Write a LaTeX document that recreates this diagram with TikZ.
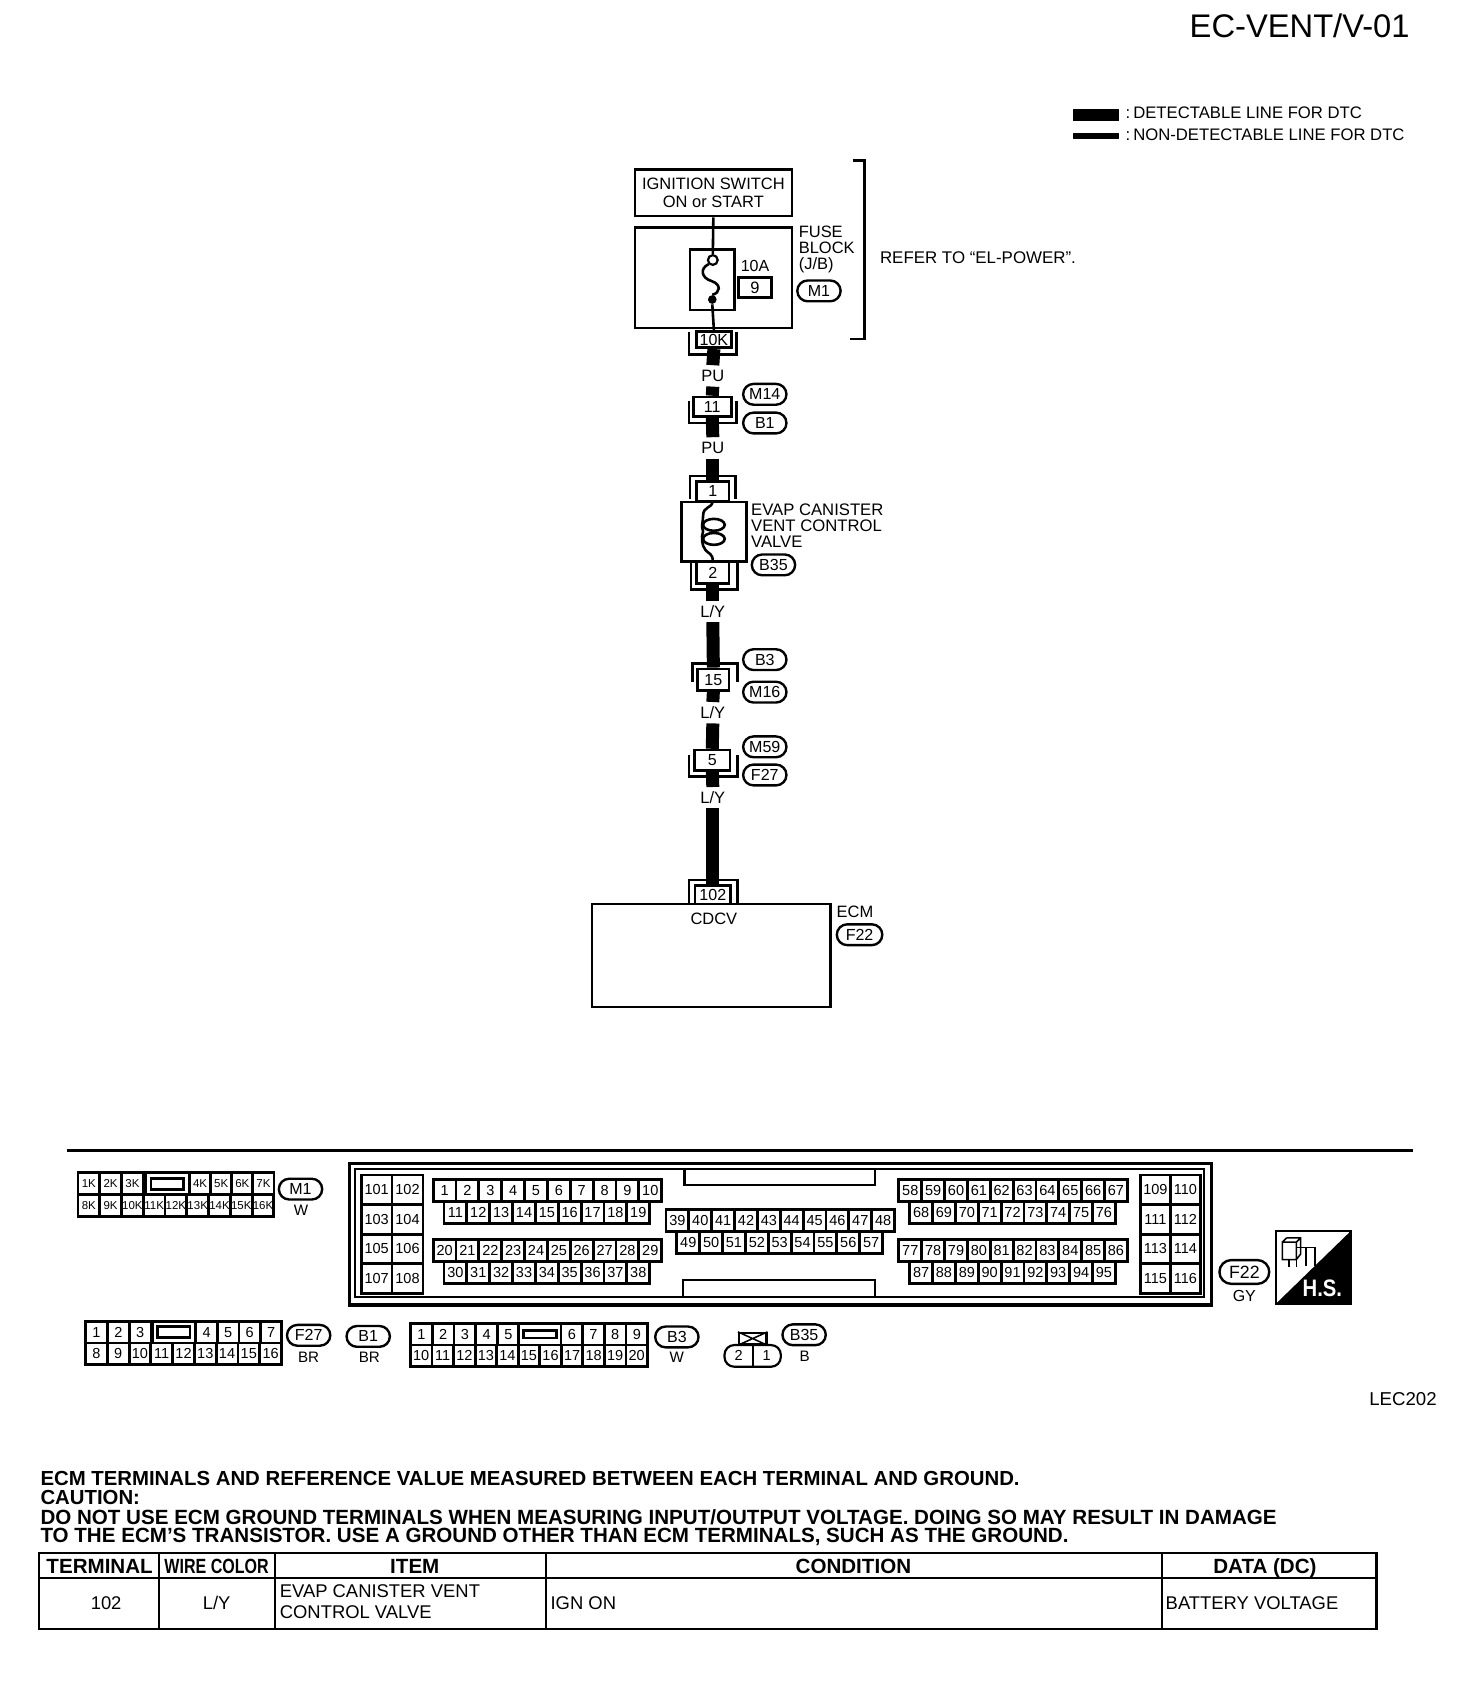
\documentclass[tikz,border=0pt]{standalone}
\usepackage{fontspec}
\setmainfont{Liberation Sans}
\newcommand{\fs}[1]{\fontsize{#1}{#1}\selectfont}
\newcommand{\pinrow}[6]{\foreach \lbl [count=\i from 0] in {#6} {\node[pin,minimum width=#4*0.5pt,minimum height=#5*0.5pt] (#1\lbl) at ({#2+(\i+0.5)*#4},{#3+0.5*#5}) {\lbl};}}
\begin{document}
\begin{tikzpicture}[x=0.5pt,y=-0.5pt,
box/.style={draw,line width=1.1pt,inner sep=0,font=\fs{7.6},align=center},
cbox/.style={draw,fill=white,line width=1.2pt,inner sep=0,font=\fs{7.4}},
lab/.style={inner sep=0,font=\fs{7.6},align=left,anchor=west},
wirelab/.style={inner sep=0,font=\fs{7.6},minimum height=9.5pt},
tag/.style={draw,line width=1.1pt,rounded corners=4.8pt,inner sep=0,minimum width=20pt,minimum height=9.6pt,font=\fs{7.4}},
pin/.style={draw,line width=1.3pt,fill=white,inner sep=0,font=\fs{6.7}},
wire/.style={line width=6pt},
lead/.style={line width=1.2pt},
shell/.style={line width=1.2pt},
head/.style={inner sep=0,font=\bfseries\fs{9.5},text height=6.8pt,text depth=0pt},
cell/.style={inner sep=0,font=\fs{8.5}}]
\useasboundingbox (0,0) rectangle (1359.4,1567.9);

\node[inner sep=0,anchor=east,font=\fs{15.1}] (title) at (1302,24) {EC-VENT/V-01};
\node[inner sep=0,minimum width=21pt,minimum height=5.5pt,fill=black] (barA) at (1012,106) {};
\node[inner sep=0,minimum width=21pt,minimum height=2.6pt,fill=black] (barB) at (1012,125.5) {};
\node[lab,font=\fs{7.7}] (legA) at (1039,104.5) {:\hspace{1.4pt}DETECTABLE LINE FOR DTC};
\node[lab,font=\fs{7.7}] (legB) at (1039,124) {:\hspace{1.4pt}NON-DETECTABLE LINE FOR DTC};

\begin{scope}[xshift=0.6pt,yshift=-0.3pt]
\node[box,minimum width=72.5pt,minimum height=21.5pt] (ign) at (657.5,177.5) {IGNITION SWITCH\\[1pt]ON or START};
\node[box,minimum width=72.5pt,minimum height=46.5pt] (fblock) at (657.5,256) {};
\node[box,minimum width=20.5pt,minimum height=28pt] (fuse) at (656.5,257.7) {};
\node[circle,draw,fill=white,line width=1pt,inner sep=0,minimum size=4.5pt] (fuseA) at (657,239.5) {};
\node[circle,fill=black,inner sep=0,minimum size=4pt] (fuseB) at (656.5,276) {};
\draw[lead] (fuseA.south west) .. controls (645,247) and (646,256) .. (656,259) .. controls (665,262) and (664,270) .. (fuseB.north);
\node[inner sep=0,font=\fs{7.4}] (amp) at (696,245) {10A};
\node[box,minimum width=15.3pt,minimum height=9.2pt] (fnum) at (696,265) {9};
\node[lab,font=\fs{7.6}] (fusel) at (736,230) {FUSE\\[-0.2pt]BLOCK\\[-0.2pt](J/B)};
\node[tag] (tagMa) at (755,268) {M1};
\draw[shell,line width=1.2pt] (786,147.5) -- (797,147.5) -- (797,312.5) -- (784,312.5);
\node[lab,font=\fs{7.8}] (refer) at (811,237.5) {REFER TO “EL-POWER”.};

\node[cbox,minimum width=16pt,minimum height=7.5pt] (cA) at (658,313) {10K};
\draw[shell] (635,305.5) |- (679,326.5) -- (679,305.5);
\node[wirelab] (puA) at (657,346.5) {PU};
\node[cbox,minimum width=17.5pt,minimum height=9pt] (cB) at (656.5,375) {11};
\draw[shell] (635,370) |- (679,390) -- (679,370);
\node[tag] (tagMb) at (705,363.5) {M14};
\node[tag] (tagB) at (705,390) {B1};
\node[wirelab] (puB) at (657,413) {PU};
\node[cbox,minimum width=15pt,minimum height=9pt] (cC) at (657,453) {1};
\draw[shell] (636,460) |- (678,439) -- (678,460);

\node[box,minimum width=30pt,minimum height=27.5pt] (valve) at (658,490.5) {};
\draw[lead] (valve.north) ++(-1,0) .. controls (656,470) and (648,466) .. (648,476) .. controls (648,481) and (646,486) .. (648,490) .. controls (646,496) and (647,503) .. (650,507) .. controls (653,511) and (657,510) .. (657,518);
\draw[lead] (658,484) ellipse (10 and 5.5);
\draw[lead] (658,497) ellipse (10 and 5.5);
\node[lab,font=\fs{7.7}] (valvel) at (692,485) {EVAP CANISTER\\[-0.2pt]VENT CONTROL\\[-0.2pt]VALVE};
\node[tag] (tagBc) at (713,521) {B35};
\node[cbox,minimum width=15pt,minimum height=10pt] (cD) at (657,528) {2};
\draw[shell] (637,519) |- (680,544) -- (680,519);
\node[wirelab] (lyA) at (657,564) {L/Y};
\node[cbox,minimum width=14.5pt,minimum height=10pt] (cE) at (657.5,627) {15};
\draw[shell] (638,629) |- (680,612) -- (680,629);
\node[tag] (tagBb) at (705,608.5) {B3};
\node[tag] (tagMc) at (705,638.5) {M16};
\node[wirelab] (lyB) at (657,657.5) {L/Y};
\node[cbox,minimum width=16.5pt,minimum height=9.5pt] (cF) at (656.5,701.5) {5};
\draw[shell] (635,697) |- (680,716.5) -- (680,697);
\node[tag] (tagMd) at (705,689) {M59};
\node[tag] (tagFa) at (705,715) {F27};
\node[wirelab] (lyC) at (657,736) {L/Y};
\node[cbox,minimum width=16.5pt,minimum height=8.5pt] (cG) at (657,825.5) {102};
\draw[shell] (635,834) |- (680,812) -- (680,834);
\node[box,minimum width=110pt,minimum height=47.5pt] (ecm) at (655.5,881.5) {};
\node[inner sep=0,font=\fs{7.6}] (cdcv) at (658,848) {CDCV};
\node[lab,font=\fs{7.6}] (ecml) at (771,841) {ECM};
\node[tag,minimum width=21pt] (tagFb) at (792.5,862.5) {F22};

\draw[lead] (ign.south) -- (fuseA.north);
\draw[lead] (fuseB.south) -- (cA.north);
\draw[wire] (cA.south) -- (puA.north);
\draw[wire] (puA.south) -- (cB.north);
\draw[wire] (cB.south) -- (puB.north);
\draw[wire] (puB.south) -- (cC.north);
\draw[wire] (cD.south) -- (lyA.north);
\draw[wire] (lyA.south) -- (cE.north);
\draw[wire] (cE.south) -- (lyB.north);
\draw[wire] (lyB.south) -- (cF.north);
\draw[wire] (cF.south) -- (lyC.north);
\draw[wire] (lyC.south) -- (cG.north);
\end{scope}

\draw[line width=1.3pt] (62,1062) -- (1305,1062);

\begin{scope}[pin/.append style={font=\fs{5.3}}]
\pinrow{mk}{72}{1083}{20.1}{20}{1K,2K,3K}
\pinrow{mk}{175}{1083}{19.5}{20}{4K,5K,6K,7K}
\pinrow{mk}{72}{1103}{20.1}{20}{8K,9K,10K,11K,12K,13K,14K,15K,16K}
\end{scope}
\node[pin,minimum width=20.5pt,minimum height=10pt] (mkslot) at (154.5,1093) {};
\node[pin,minimum width=15pt,minimum height=5pt] (mkslotb) at (154.5,1093) {};
\node[tag] (conMa) at (277.5,1098) {M1};
\node[inner sep=0,font=\fs{7}] (colMa) at (278,1118) {W};

\draw[line width=1.5pt] (323,1074) rectangle (1119,1205);
\draw[line width=0.9pt] (328,1079) rectangle (1112,1198);
\draw[line width=1pt] (632,1079) |- (808,1094) -- (808,1079);
\draw[line width=1pt] (631,1198) |- (808,1182) -- (808,1198);

\pinrow{e}{333.5}{1085}{28.5}{27.3}{101,102}
\pinrow{e}{333.5}{1112.3}{28.5}{27.3}{103,104}
\pinrow{e}{333.5}{1139.6}{28.5}{27.3}{105,106}
\pinrow{e}{333.5}{1166.9}{28.5}{27.3}{107,108}
\pinrow{e}{400}{1089}{21.1}{20.5}{1,...,10}
\pinrow{e}{410}{1109.5}{21.1}{20.5}{11,...,19}
\pinrow{e}{400}{1144.5}{21.1}{20.5}{20,...,29}
\pinrow{e}{410}{1165}{21.1}{20.5}{30,...,38}
\pinrow{e}{615}{1116.5}{21.1}{20.5}{39,...,48}
\pinrow{e}{625}{1137}{21.1}{20.5}{49,...,57}
\pinrow{e}{830}{1089}{21.1}{20.5}{58,...,67}
\pinrow{e}{840}{1109.5}{21.1}{20.5}{68,...,76}
\pinrow{e}{830}{1144.5}{21.1}{20.5}{77,...,86}
\pinrow{e}{840}{1165}{21.1}{20.5}{87,...,95}
\pinrow{e}{1053}{1085}{27.7}{27.3}{109,110}
\pinrow{e}{1053}{1112.3}{27.7}{27.3}{111,112}
\pinrow{e}{1053}{1139.6}{27.7}{27.3}{113,114}
\pinrow{e}{1053}{1166.9}{27.7}{27.3}{115,116}

\node[tag,minimum width=23pt,minimum height=11pt,rounded corners=5.5pt,font=\fs{8.2}] (conFb) at (1149,1174.5) {F22};
\node[inner sep=0,font=\fs{7.4}] (colFb) at (1149,1197) {GY};
\draw[line width=1pt] (1178,1137) rectangle (1247,1204);
\fill (1247,1137) -- (1247,1204) -- (1178,1204) -- cycle;
\node[inner sep=0,font=\bfseries\fs{11},text=white] (hs) at (1221,1190) {\scalebox{0.85}[1]{H.S.}};
\draw[line width=0.7pt] (1184,1147) rectangle (1197,1163) (1188,1143) -- (1201,1143) -- (1201,1158) -- (1197,1163) (1184,1147) -- (1188,1143) (1197,1147) -- (1201,1143);
\draw[line width=0.7pt] (1197,1152) -- (1214,1152) -- (1214,1169) (1206,1152) -- (1206,1169) (1190,1163) -- (1190,1170) (1197,1163) -- (1197,1170);

\pinrow{fa}{79}{1220}{20.2}{20}{1,2,3}
\pinrow{fa}{181}{1220}{19.8}{20}{4,5,6,7}
\pinrow{fa}{79}{1240}{20.1}{20}{8,...,16}
\node[pin,minimum width=20pt,minimum height=10pt] (faslot) at (160.5,1230) {};
\node[pin,minimum width=15pt,minimum height=5pt] (faslotb) at (160.5,1230) {};
\node[tag] (conFa) at (285,1233) {F27};
\node[inner sep=0,font=\fs{7}] (colFa) at (285,1253) {BR};
\node[tag] (conB) at (340,1234) {B1};
\node[inner sep=0,font=\fs{7}] (colB) at (341,1253) {BR};
\pinrow{ba}{379}{1222}{20.1}{20}{1,...,5}
\pinrow{ba}{518}{1222}{20}{20}{6,...,9}
\pinrow{ba}{379}{1242}{19.9}{20}{10,...,20}
\node[pin,minimum width=19.5pt,minimum height=10pt] (baslot) at (498.5,1232) {};
\node[pin,minimum width=15pt,minimum height=3.5pt] (baslotb) at (498.5,1232) {};
\node[tag] (conBb) at (625,1234.5) {B3};
\node[inner sep=0,font=\fs{7}] (colBb) at (625,1253) {W};
\node[draw,line width=1.2pt,inner sep=0,minimum width=12.5pt,minimum height=5pt] (key) at (695,1236) {};
\draw[line width=0.7pt] (key.north west) -- (key.south east) (key.south west) -- (key.north east);
\node[draw,line width=1pt,rounded corners=4.5pt,inner sep=0,minimum width=26pt,minimum height=10pt] (plug) at (695,1252) {};
\draw[line width=1pt] (plug.north) -- (plug.south);
\node[inner sep=0,font=\fs{6.7}] (plugB) at (682,1252) {2};
\node[inner sep=0,font=\fs{6.7}] (plugA) at (708,1252) {1};
\node[tag] (conBc) at (742.5,1232.5) {B35};
\node[inner sep=0,font=\fs{7}] (colBc) at (743,1252) {B};

\node[inner sep=0,anchor=east,font=\fs{8.6}] (code) at (1327,1292) {LEC202};

\node[inner sep=0,anchor=west,font=\bfseries\fs{9.4}] (noteA) at (37,1365) {ECM TERMINALS AND REFERENCE VALUE MEASURED BETWEEN EACH TERMINAL AND GROUND.};
\node[inner sep=0,anchor=west,font=\bfseries\fs{9.4}] (noteB) at (37,1382.5) {CAUTION:};
\node[inner sep=0,anchor=west,font=\bfseries\fs{9.5}] (noteC) at (37,1401) {DO NOT USE ECM GROUND TERMINALS WHEN MEASURING INPUT/OUTPUT VOLTAGE. DOING SO MAY RESULT IN DAMAGE};
\node[inner sep=0,anchor=west,font=\bfseries\fs{9.5}] (noteD) at (37,1419.5) {TO THE ECM’S TRANSISTOR. USE A GROUND OTHER THAN ECM TERMINALS, SUCH AS THE GROUND.};

\draw[line width=1.2pt] (36,1434) rectangle (1271,1504);
\draw[line width=0.9pt] (36,1457) -- (1271,1457);
\draw[line width=0.9pt] (147,1434) -- (147,1504) (254,1434) -- (254,1504) (504,1434) -- (504,1504) (1073,1434) -- (1073,1504);
\node[head] (hTerm) at (92,1446) {TERMINAL};
\node[head] (hWire) at (200,1446) {\scalebox{0.78}[1]{WIRE COLOR}};
\node[head] (hItem) at (383,1446) {ITEM};
\node[head] (hCond) at (788,1446) {CONDITION};
\node[head] (hData) at (1168,1446) {DATA (DC)};
\node[cell] (dTerm) at (98,1480) {102};
\node[cell] (dWire) at (200,1480) {L/Y};
\node[cell,anchor=west] (dItemA) at (258,1469) {EVAP CANISTER VENT};
\node[cell,anchor=west] (dItemB) at (258,1489) {CONTROL VALVE};
\node[cell,anchor=west] (dCond) at (508,1480) {IGN ON};
\node[cell,anchor=west] (dData) at (1076,1480) {BATTERY VOLTAGE};
\end{tikzpicture}
\end{document}
